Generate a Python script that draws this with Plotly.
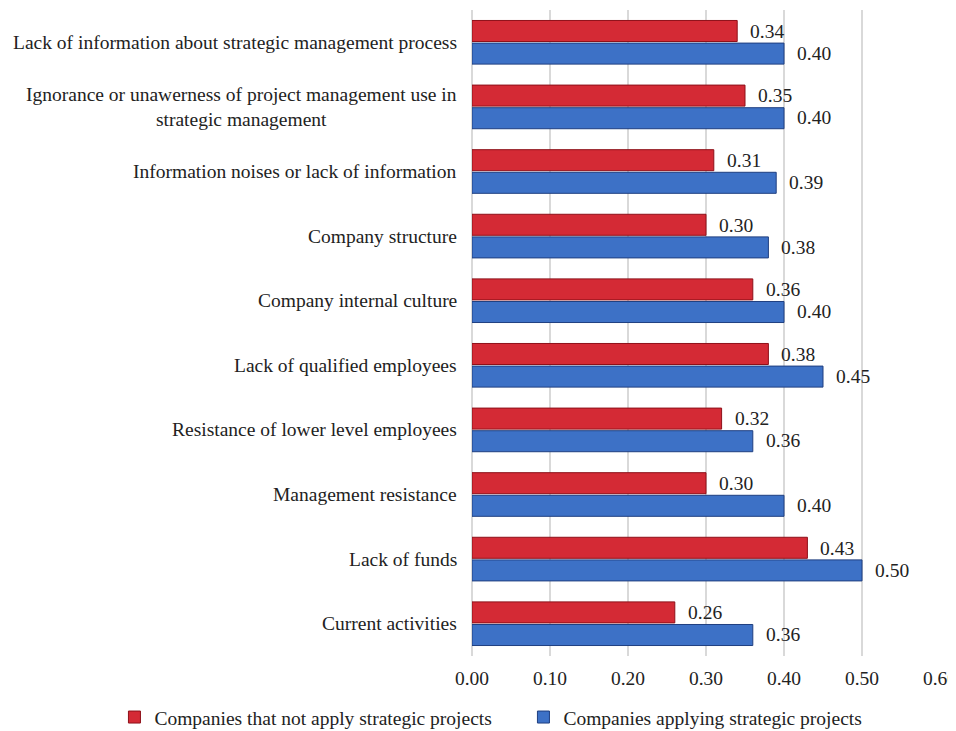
import plotly.graph_objects as go

categories = [
    "Lack of information about strategic management process",
    "Ignorance or unawerness of project management use in<br>strategic management",
    "Information noises or lack of information",
    "Company structure",
    "Company internal culture",
    "Lack of qualified employees",
    "Resistance of lower level employees",
    "Management resistance",
    "Lack of funds",
    "Current activities",
]
not_apply = [0.34, 0.35, 0.31, 0.30, 0.36, 0.38, 0.32, 0.30, 0.43, 0.26]
applying = [0.40, 0.40, 0.39, 0.38, 0.40, 0.45, 0.36, 0.40, 0.50, 0.36]
series_names = ["Companies that not apply strategic projects",
                "Companies applying strategic projects"]
x_ticks = [0.0, 0.1, 0.2, 0.3, 0.4, 0.5, 0.6]

FONT = "Liberation Serif, Times New Roman, serif"
FS = 19.5
RED = "#d42a35"
BLUE = "#3d71c6"

fig = go.Figure()
fig.add_trace(go.Bar(
    y=categories, x=not_apply, orientation="h", name=series_names[0],
    marker=dict(color=RED, line=dict(color="#8e1019", width=1)),
    hoverinfo="x+y",
))
fig.add_trace(go.Bar(
    y=categories, x=applying, orientation="h", name=series_names[1],
    marker=dict(color=BLUE, line=dict(color="#1f3f80", width=1)),
    hoverinfo="x+y",
))

annotations = []
# value labels
for cat, v in zip(categories, not_apply):
    annotations.append(dict(x=v, y=cat, xref="x", yref="y", text=f"{v:.2f}",
                            showarrow=False, xanchor="left", xshift=11, yshift=11,
                            font=dict(family=FONT, size=FS, color="#222")))
for cat, v in zip(categories, applying):
    annotations.append(dict(x=v, y=cat, xref="x", yref="y", text=f"{v:.2f}",
                            showarrow=False, xanchor="left", xshift=11, yshift=-11,
                            font=dict(family=FONT, size=FS, color="#222")))
# category labels (centered multi-line)
for cat in categories:
    annotations.append(dict(x=0, y=cat, xref="paper", yref="y", text=cat,
                            showarrow=False, xanchor="right", xshift=-13,
                            align="center",
                            font=dict(family=FONT, size=FS, color="#222")))

fig.update_layout(
    width=948, height=723,
    margin=dict(l=464, r=16, t=2, b=75, autoexpand=False),
    paper_bgcolor="white", plot_bgcolor="white",
    barmode="group", bargap=0.30, bargroupgap=0.07,
    font=dict(family=FONT, size=FS, color="#222"),
    xaxis=dict(range=[0, 0.6], tickvals=x_ticks, tickformat=".2f",
               showgrid=True, gridcolor="#d9d9d9", gridwidth=2,
               zeroline=True, zerolinecolor="#d9d9d9", zerolinewidth=2,
               showline=False, ticks="", automargin=False,
               ticklabeloverflow="allow", ticklabelstandoff=8,
               layer="below traces",
               tickfont=dict(family=FONT, size=FS, color="#222")),
    yaxis=dict(autorange="reversed", showticklabels=False, showgrid=False,
               zeroline=False, showline=False, ticks="", automargin=False),
    legend=dict(orientation="h", x=-0.764, xanchor="left", y=-0.095, yanchor="middle",
                font=dict(family=FONT, size=FS, color="#222"),
                itemwidth=30, entrywidth=364, traceorder="normal"),
    annotations=annotations,
    showlegend=True,
)

fig.write_html("out.html")
